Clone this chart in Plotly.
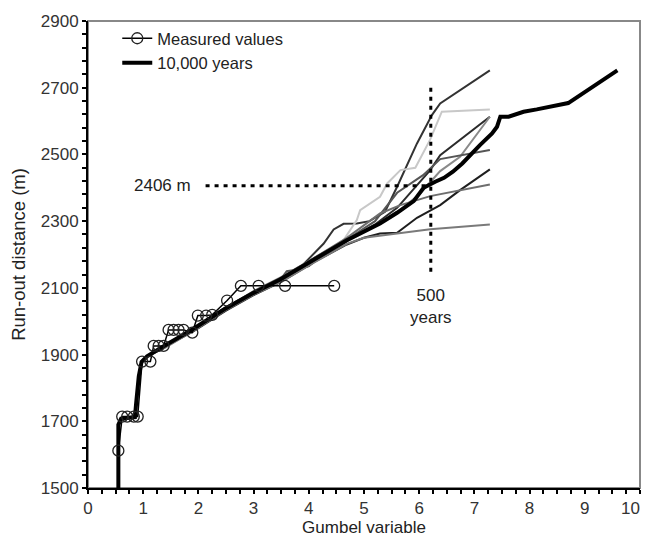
import plotly.graph_objects as go

# ---------------- data ----------------
measured_x = [0.55, 0.62, 0.71, 0.83, 0.90, 0.98, 1.13, 1.19, 1.28, 1.37, 1.46, 1.55, 1.64, 1.73,
              1.89, 1.99, 2.14, 2.25, 2.52, 2.77, 3.09, 3.57, 4.46]
measured_y = [1612, 1714, 1714, 1714, 1714, 1879, 1879, 1926, 1926, 1926, 1974, 1974, 1974, 1974,
              1966, 2017, 2017, 2019, 2062, 2106, 2106, 2106, 2106]

thick_x = [0.55, 0.55, 0.60, 0.85, 0.87, 0.92, 0.97, 1.07, 1.37, 1.86, 2.46, 3.00, 3.48, 4.10,
           4.69, 5.29, 5.60, 5.90, 6.00, 6.08, 6.29, 6.45, 6.61, 6.78, 7.10, 7.32, 7.41, 7.47,
           7.62, 7.89, 8.13, 8.70, 9.59]
thick_y = [1480, 1690, 1708, 1712, 1750, 1835, 1878, 1895, 1925, 1972, 2035, 2085, 2125, 2185,
           2243, 2293, 2325, 2360, 2385, 2400, 2418, 2430, 2448, 2473, 2528, 2563, 2583, 2613,
           2613, 2628, 2635, 2654, 2752]

low_x = [0.55, 0.55, 0.60, 0.85, 0.92, 0.97, 1.07]
low_y = [1480, 1690, 1707, 1712, 1836, 1879, 1895]

sim_lines = {
    "A": dict(color="#333333",
              x=[1.40, 1.90, 2.50, 3.00, 3.50, 3.90, 4.27, 4.45, 4.63, 4.87, 5.10, 5.38, 5.60, 5.96, 6.23, 6.38, 7.28],
              y=[1928, 1978, 2042, 2088, 2130, 2170, 2233, 2275, 2292, 2293, 2300, 2328, 2403, 2533, 2618, 2653, 2752]),
    "B": dict(color="#c8c8c8",
              x=[1.40, 1.90, 2.50, 3.00, 3.50, 3.80, 4.00, 4.40, 4.63, 4.87, 4.93, 5.29, 5.42, 5.66, 5.93, 6.20, 6.41, 7.28],
              y=[1924, 1970, 2035, 2082, 2125, 2160, 2178, 2215, 2243, 2303, 2333, 2373, 2413, 2453, 2460, 2545, 2628, 2635]),
    "C": dict(color="#2b2b2b",
              x=[1.40, 1.90, 2.50, 3.00, 3.50, 3.70, 4.00, 4.30, 4.69, 5.20, 5.60, 5.99, 6.20, 6.38, 7.28],
              y=[1926, 1974, 2038, 2086, 2124, 2150, 2165, 2205, 2243, 2290, 2340, 2413, 2453, 2498, 2613]),
    "D": dict(color="#8a8a8a",
              x=[1.40, 1.90, 2.50, 3.00, 3.50, 4.10, 4.69, 5.20, 5.70, 6.00, 6.38, 6.74, 7.28],
              y=[1922, 1971, 2036, 2080, 2120, 2180, 2240, 2285, 2340, 2380, 2450, 2493, 2613]),
    "E": dict(color="#555555",
              x=[1.40, 1.90, 2.50, 3.00, 3.50, 3.60, 3.80, 4.10, 4.69, 5.20, 5.60, 6.07, 6.38, 7.28],
              y=[1927, 1973, 2033, 2084, 2128, 2150, 2155, 2190, 2245, 2300, 2385, 2438, 2486, 2513]),
    "F": dict(color="#1e1e1e",
              x=[1.40, 1.90, 2.50, 3.00, 3.50, 4.10, 4.69, 5.00, 5.29, 5.60, 5.96, 6.38, 6.74, 7.28],
              y=[1925, 1969, 2032, 2078, 2118, 2178, 2230, 2250, 2263, 2265, 2310, 2348, 2393, 2455]),
    "G": dict(color="#6e6e6e",
              x=[1.40, 1.90, 2.50, 3.00, 3.50, 4.10, 4.69, 5.29, 5.66, 6.20, 7.28],
              y=[1923, 1975, 2040, 2090, 2132, 2190, 2250, 2323, 2348, 2375, 2410]),
    "H": dict(color="#7a7a7a",
              x=[1.40, 1.90, 2.50, 3.00, 3.50, 4.10, 4.69, 5.00, 5.30, 5.60, 6.20, 7.28],
              y=[1921, 1970, 2034, 2080, 2118, 2176, 2232, 2250, 2257, 2263, 2276, 2290]),
}

gumbel_500 = 6.21
runout_500 = 2406
hline_x = [2.13, gumbel_500]
vline_y = [2148, 2713]

x_ticks = [0, 1, 2, 3, 4, 5, 6, 7, 8, 9, 10]
x_tick_labels = ["0", "1", "2", "3", "4", "5", "6", "7", "8", "9", "10\u00a0\u00a0\u00a0\u00a0"]
y_ticks = [1500, 1700, 1900, 2100, 2300, 2500, 2700, 2900]

# ---------------- figure ----------------
fig = go.Figure()

for name, s in sim_lines.items():
    fig.add_trace(go.Scatter(x=low_x + s["x"], y=low_y + s["y"], mode="lines",
                             line=dict(color=s["color"], width=2), showlegend=False,
                             hoverinfo="skip"))

fig.add_trace(go.Scatter(x=hline_x, y=[runout_500, runout_500], mode="lines",
                         line=dict(color="black", width=3, dash="4px,5px"), showlegend=False))
fig.add_trace(go.Scatter(x=[gumbel_500, gumbel_500], y=vline_y, mode="lines",
                         line=dict(color="black", width=3, dash="4px,5px"), showlegend=False))

fig.add_trace(go.Scatter(x=thick_x, y=thick_y, mode="lines", name="10,000 years",
                         line=dict(color="black", width=4)))
fig.add_trace(go.Scatter(x=measured_x, y=measured_y, mode="lines+markers", name="Measured values",
                         line=dict(color="black", width=1.5),
                         marker=dict(symbol="circle-open", size=11, color="#222222",
                                     line=dict(width=1.3))))

FAM = "Liberation Sans, Arial, sans-serif"
txt_font = dict(family=FAM, size=17, color="#222222")
fig.add_annotation(x=1.35, y=runout_500, text="2406 m", showarrow=False, font=txt_font)
fig.add_annotation(x=gumbel_500, y=2113, text="500<br>years", showarrow=False,
                   font=txt_font, yanchor="top")

fig.add_shape(type="rect", xref="paper", yref="paper", x0=0, y0=0, x1=1, y1=1,
              line=dict(color="#888888", width=2), layer="below")

axis_font = dict(family=FAM, size=17, color="#333333")
fig.update_layout(
    width=641, height=532,
    margin=dict(l=79.5, r=9, t=13, b=51.7, autoexpand=False),
    plot_bgcolor="white", paper_bgcolor="white",
    font=axis_font,
    showlegend=True,
    legend=dict(x=0.053, y=1.0, xanchor="left", yanchor="top",
                traceorder="reversed", bgcolor="rgba(0,0,0,0)",
                font=dict(family=FAM, size=16.5, color="#222222"),
                tracegroupgap=0),
    xaxis=dict(range=[0, 10], tickvals=x_ticks, ticktext=x_tick_labels,
               ticks="outside", ticklen=4, tickwidth=1.5,
               tickcolor="black", showline=True, linecolor="black", linewidth=2,
               showgrid=False, zeroline=False, tickfont=axis_font, ticklabeloverflow="allow",
               minor=dict(dtick=0.25, ticks="outside", ticklen=4, tickwidth=1.5, tickcolor="black"),
               title=dict(text="Gumbel variable", font=dict(family=FAM, size=17, color="#222222"),
                          standoff=0)),
    yaxis=dict(range=[1500, 2900], tickvals=y_ticks, ticks="outside", ticklen=4, tickwidth=1.5,
               tickcolor="black", showline=True, linecolor="black", linewidth=2,
               showgrid=False, zeroline=False, tickfont=axis_font,
               minor=dict(dtick=40, tick0=1500, ticks="outside", ticklen=4, tickwidth=1.5, tickcolor="black"),
               title=dict(text="Run-out distance (m)", font=dict(family=FAM, size=18.5, color="#222222"),
                          standoff=17)),
)

fig.write_html("out.html")
